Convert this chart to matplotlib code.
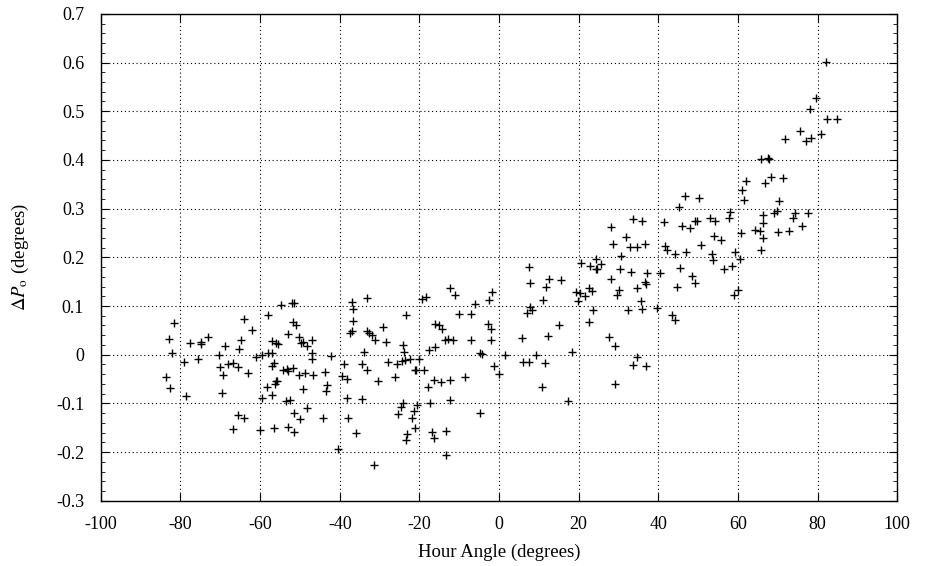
import matplotlib
matplotlib.use('Agg')
from matplotlib import pyplot as plt
from matplotlib.ticker import MultipleLocator, FuncFormatter

# hour angle (degrees)
hour_angle = [
    -58.0, -81.5, -64.1, -62.1, -82.9, -73.1, -77.6, -74.8, -74.8, -68.8, -64.8,
    -82.2, -65.2, -70.3, -79.1, -75.7, -61.1, -59.6, -58.0, -70.0, -68.1, -66.8,
    -65.6, -69.3, -63.1, -83.6, -82.7, -78.5, -69.6, -58.3, -59.4, -65.6, -64.1,
    -66.8, -60.1,
    -54.7, -51.9, -51.5, -33.2, -36.9, -36.6, -51.7, -51.1, -36.6, -29.1, -52.9,
    -50.3, -49.8, -49.2, -48.2, -46.9, -57.0, -55.9, -55.6, -37.4, -36.9, -33.1,
    -32.7, -31.8, -31.2, -28.5, -47.0, -47.0, -42.2, -33.8, -57.0, -56.4, -56.9,
    -38.9, -34.3, -33.1, -54.2, -53.3, -52.9, -51.8, -50.3, -48.8, -46.8, -43.6,
    -39.5, -38.3, -30.5, -56.3, -56.0, -55.8, -49.2, -43.1, -43.4, -57.0, -53.5,
    -52.4, -38.3, -34.4, -48.3, -51.4, -50.0, -44.3, -37.9, -56.5, -52.9, -51.4,
    -35.8, -40.5, -31.5,
    -12.3, -11.1, -19.4, -18.4, -1.8, -2.6, -6.0, -23.4, -10.1, -7.0, -16.1,
    -15.1, -14.2, -2.8, -2.0, -13.6, -12.9, -11.5, -7.0, -2.0, -24.0, -16.0,
    -17.5, -23.9, -4.9, -4.2, -27.8, -25.6, -24.3, -23.6, -22.4, -20.0, -21.1,
    -20.9, -18.8, -1.2, 0.1, -26.1, -16.3, -14.6, -12.3, -8.5, -17.8, -17.3,
    -12.4, -24.0, -24.6, -20.7, -21.3, -25.3, -21.9, -21.0, -4.8, -16.8, -16.3,
    -13.4, -23.1, -23.4, -13.4,
    28.1, 28.6, 20.6, 24.4, 22.9, 24.3, 24.6, 25.5, 7.5, 7.9, 12.6, 15.6, 11.9,
    28.1, 22.7, 23.4, 19.4, 20.4, 21.6, 11.1, 19.8, 7.9, 8.2, 7.0, 23.5, 15.1,
    22.5, 5.7, 12.4, 27.7, 29.0, 1.5, 18.3, 9.3, 5.9, 7.4, 11.5, 10.7, 29.1, 17.4,
    46.7, 50.3, 45.3, 58.0, 57.7, 33.7, 36.0, 41.5, 46.0, 47.9, 49.2, 49.7, 53.0,
    54.2, 31.9, 32.9, 34.7, 36.6, 54.1, 55.7, 50.6, 41.8, 42.1, 44.2, 47.0, 53.5,
    53.8, 30.7, 30.3, 33.1, 37.1, 40.5, 45.5, 48.4, 49.1, 56.5, 58.5, 36.7, 36.9,
    34.7, 30.1, 29.6, 44.6, 35.6, 58.9, 32.5, 35.9, 39.7, 43.5, 44.1, 34.7, 33.6,
    36.9,
    82.2, 79.7, 78.1, 82.3, 84.8, 75.7, 78.3, 77.1, 80.9, 71.7, 65.8, 67.5, 67.7,
    62.1, 68.3, 71.2, 66.8, 61.1, 61.5, 70.4, 66.2, 69.0, 69.7, 74.4, 77.5, 73.9,
    66.4, 76.1, 64.3, 65.6, 70.0, 72.9, 60.7, 66.3, 65.7, 59.3, 60.5, 60.1,
]

# pointing offset (degrees)
delta_p = [
    0.082, 0.065, 0.074, 0.050, 0.033, 0.036, 0.024, 0.027, 0.022, 0.018, 0.030,
    0.003, 0.011, 0.000, -0.014, -0.009, -0.004, -0.001, 0.004, -0.026, -0.020, -0.018,
    -0.025, -0.041, -0.037, -0.045, -0.068, -0.085, -0.078, -0.066, -0.088, -0.123, -0.129,
    -0.153, -0.155,
    0.103, 0.107, 0.107, 0.116, 0.109, 0.093, 0.067, 0.062, 0.069, 0.056, 0.042,
    0.036, 0.025, 0.026, 0.018, 0.030, 0.028, 0.025, 0.021, 0.045, 0.049, 0.049,
    0.045, 0.040, 0.030, 0.026, 0.004, -0.009, -0.002, 0.006, 0.004, -0.018, -0.023,
    -0.019, -0.020, -0.031, -0.031, -0.029, -0.033, -0.028, -0.041, -0.038, -0.042, -0.035,
    -0.044, -0.050, -0.053, -0.060, -0.055, -0.053, -0.070, -0.062, -0.074, -0.083, -0.096,
    -0.092, -0.088, -0.090, -0.110, -0.120, -0.133, -0.130, -0.130, -0.150, -0.148, -0.159,
    -0.161, -0.194, -0.226,
    0.136, 0.123, 0.114, 0.119, 0.129, 0.112, 0.105, 0.081, 0.084, 0.083, 0.064,
    0.062, 0.053, 0.063, 0.053, 0.030, 0.032, 0.030, 0.031, 0.030, 0.020, 0.016,
    0.010, 0.005, 0.004, 0.002, -0.016, -0.019, -0.012, -0.011, -0.008, -0.008, -0.031,
    -0.031, -0.032, -0.024, -0.040, -0.045, -0.051, -0.056, -0.052, -0.045, -0.066, -0.099,
    -0.094, -0.100, -0.108, -0.104, -0.115, -0.122, -0.130, -0.151, -0.120, -0.158, -0.171,
    -0.156, -0.162, -0.175, -0.205,
    0.262, 0.227, 0.188, 0.197, 0.183, 0.175, 0.177, 0.186, 0.181, 0.148, 0.155, 0.153, 0.139,
    0.156, 0.136, 0.131, 0.129, 0.126, 0.121, 0.112, 0.110, 0.098, 0.091, 0.086, 0.092, 0.062,
    0.067, 0.034, 0.039, 0.037, 0.018, 0.000, 0.005, -0.001, -0.015, -0.014, -0.018, -0.066, -0.060, -0.096,
    0.326, 0.321, 0.303, 0.294, 0.281, 0.279, 0.274, 0.272, 0.264, 0.261, 0.275, 0.275, 0.280,
    0.274, 0.241, 0.221, 0.222, 0.228, 0.244, 0.235, 0.225, 0.223, 0.215, 0.207, 0.210, 0.207,
    0.195, 0.203, 0.175, 0.169, 0.168, 0.167, 0.179, 0.162, 0.148, 0.176, 0.182, 0.150, 0.145,
    0.136, 0.133, 0.122, 0.138, 0.111, 0.122, 0.091, 0.093, 0.096, 0.082, 0.072, -0.005, -0.022,
    -0.023,
    0.602, 0.528, 0.505, 0.483, 0.485, 0.460, 0.445, 0.439, 0.453, 0.443, 0.401, 0.403, 0.402,
    0.357, 0.364, 0.362, 0.353, 0.339, 0.318, 0.315, 0.287, 0.290, 0.295, 0.292, 0.290, 0.281,
    0.270, 0.265, 0.257, 0.255, 0.251, 0.253, 0.250, 0.239, 0.216, 0.210, 0.196, 0.133,
]

plt.rcParams['font.family'] = ['Liberation Serif', 'DejaVu Serif']
plt.rcParams['mathtext.fontset'] = 'stix'
plt.rcParams['axes.unicode_minus'] = False

fig = plt.figure(figsize=(9.25, 5.66), dpi=100)
ax = fig.add_axes([0.109, 0.1152, 0.861, 0.8604])

ax.plot(hour_angle, delta_p, linestyle='none', marker='+', color='black',
        markersize=6, markeredgewidth=1.0)

ax.set_xlim(-100, 100)
ax.set_ylim(-0.3, 0.7)
ax.xaxis.set_major_locator(MultipleLocator(20))
ax.yaxis.set_major_locator(MultipleLocator(0.1))
ax.yaxis.set_minor_locator(MultipleLocator(0.02))
ax.xaxis.set_major_formatter(FuncFormatter(lambda v, p: '%g' % round(v, 6)))
ax.yaxis.set_major_formatter(FuncFormatter(lambda v, p: '%g' % round(v, 6)))

ax.grid(True, which='major', linestyle=(0, (1, 2.5)), color='black', linewidth=0.8)
ax.tick_params(which='both', direction='in', top=True, right=True, labelsize=13)
ax.tick_params(which='major', length=6)
ax.tick_params(which='minor', length=3)
ax.tick_params(axis='x', pad=11)
ax.tick_params(axis='y', pad=12)
for s in ax.spines.values():
    s.set_linewidth(1.0)

ax.set_xlabel('Hour Angle (degrees)', fontsize=13.5, labelpad=8)
ax.set_ylabel(r'$\Delta P_{\rm o}$ (degrees)', fontsize=13.5, labelpad=18)

fig.savefig('out.png', dpi=100)
